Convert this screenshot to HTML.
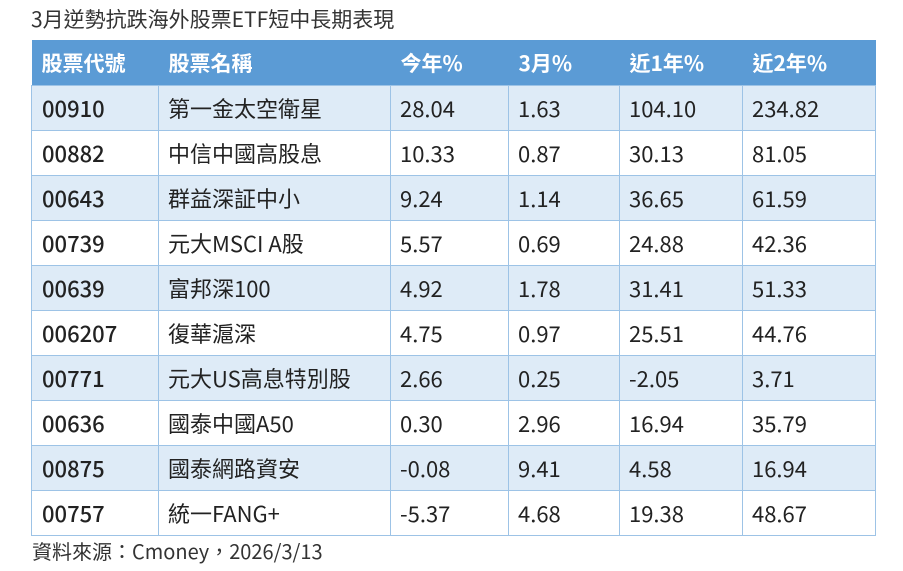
<!DOCTYPE html>
<html><head><meta charset="utf-8"><style>
body{margin:0;width:903px;height:571px;background:#fff;font-family:"Noto Sans CJK TC","Liberation Sans",sans-serif;color:#222;position:relative;overflow:hidden}
.t{position:absolute;left:31px;top:5px;font-size:21px;line-height:28px;color:#333}
table{position:absolute;left:31px;top:40px;border-collapse:collapse;width:844px;table-layout:fixed}
th{background:#5b9bd5;color:#fff;font-size:21px;font-weight:bold;text-align:left;height:45px;padding:0 0 0 10px;border:none;line-height:24px}
td{font-size:22px;height:44px;padding:0 0 0 9px;border:1px solid #9dc3e6;white-space:nowrap;line-height:24px}
td:first-child{font-weight:500;padding-left:10px}
tr:nth-child(even) td{background:#deebf7}
.f{position:absolute;left:32px;top:537px;font-size:20px;line-height:28px;color:#333}
</style></head><body>
<div class="t">3月逆勢抗跌海外股票ETF短中長期表現</div>
<table>
<colgroup><col style="width:127px"><col style="width:232px"><col style="width:118px"><col style="width:111px"><col style="width:123px"><col style="width:133px"></colgroup>
<tr><th>股票代號</th><th>股票名稱</th><th>今年%</th><th>3月%</th><th>近1年%</th><th>近2年%</th></tr>
<tr><td>00910</td><td>第一金太空衛星</td><td>28.04</td><td>1.63</td><td>104.10</td><td>234.82</td></tr>
<tr><td>00882</td><td>中信中國高股息</td><td>10.33</td><td>0.87</td><td>30.13</td><td>81.05</td></tr>
<tr><td>00643</td><td>群益深証中小</td><td>9.24</td><td>1.14</td><td>36.65</td><td>61.59</td></tr>
<tr><td>00739</td><td>元大MSCI A股</td><td>5.57</td><td>0.69</td><td>24.88</td><td>42.36</td></tr>
<tr><td>00639</td><td>富邦深100</td><td>4.92</td><td>1.78</td><td>31.41</td><td>51.33</td></tr>
<tr><td>006207</td><td>復華滬深</td><td>4.75</td><td>0.97</td><td>25.51</td><td>44.76</td></tr>
<tr><td>00771</td><td>元大US高息特別股</td><td>2.66</td><td>0.25</td><td>-2.05</td><td>3.71</td></tr>
<tr><td>00636</td><td>國泰中國A50</td><td>0.30</td><td>2.96</td><td>16.94</td><td>35.79</td></tr>
<tr><td>00875</td><td>國泰網路資安</td><td>-0.08</td><td>9.41</td><td>4.58</td><td>16.94</td></tr>
<tr><td>00757</td><td>統一FANG+</td><td>-5.37</td><td>4.68</td><td>19.38</td><td>48.67</td></tr>
</table>
<div class="f">資料來源：Cmoney，2026/3/13</div>
</body></html>
